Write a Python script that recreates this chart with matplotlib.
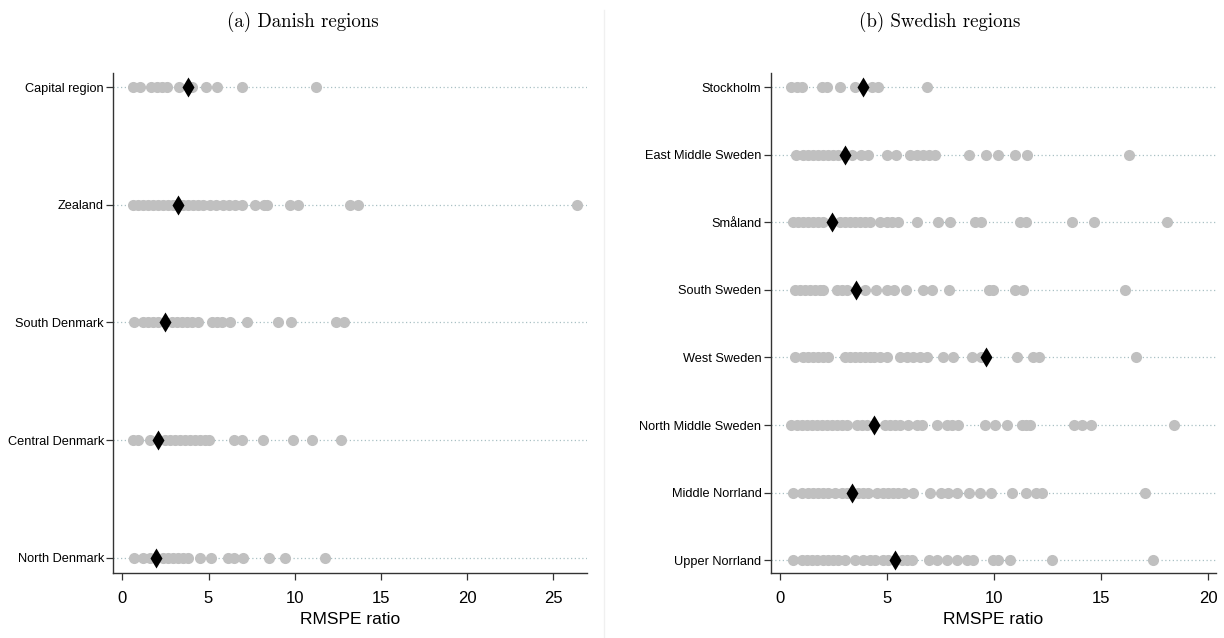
import matplotlib.pyplot as plt

# placebo RMSPE ratios (grey dots) and the actual ratio (black diamond) per region
capital = [0.60, 1.03, 1.65, 1.99, 2.28, 2.61, 3.31, 4.02, 4.86, 5.49, 6.96, 11.22]
zealand = [0.60, 0.93, 1.22, 1.51, 1.80, 2.09, 2.38, 2.67, 2.96, 3.54, 3.83, 4.12, 4.41,
           4.70, 5.09, 5.43, 5.86, 6.19, 6.54, 6.92, 7.70, 8.24, 8.37, 9.73, 10.21,
           13.21, 13.69, 26.36]
south_dk = [0.68, 1.22, 1.51, 1.80, 2.09, 2.86, 3.15, 3.44, 3.73, 4.02, 4.41, 5.18, 5.47,
            5.76, 6.25, 7.21, 9.01, 9.77, 12.40, 12.88]
central_dk = [0.60, 0.93, 1.61, 2.48, 2.77, 3.06, 3.35, 3.64, 3.93, 4.22, 4.51, 4.80, 5.05,
              6.48, 6.92, 8.18, 9.92, 11.02, 12.67]
north_dk = [0.68, 1.22, 1.61, 2.38, 2.67, 2.96, 3.25, 3.54, 3.83, 4.51, 5.15, 6.15, 6.48,
            7.02, 8.53, 9.44, 11.76]

stockholm = [0.54, 0.78, 1.01, 1.95, 2.21, 2.80, 3.50, 4.28, 4.59, 6.88]
east_middle = [0.75, 1.09, 1.32, 1.56, 1.79, 2.02, 2.26, 2.49, 2.72, 3.35, 3.77, 4.12, 5.01,
               5.42, 6.07, 6.38, 6.69, 6.97, 7.24, 8.84, 9.62, 10.18, 10.97, 11.55, 16.29]
smaland = [0.59, 0.86, 1.09, 1.32, 1.56, 1.79, 2.02, 2.80, 3.03, 3.27, 3.50, 3.73, 3.97,
           4.20, 4.67, 4.98, 5.21, 5.52, 6.38, 7.39, 7.94, 9.10, 9.41, 11.20, 11.51,
           13.65, 14.67, 18.08]
south_se = [0.70, 0.93, 1.17, 1.40, 1.63, 1.87, 2.02, 2.65, 2.88, 3.11, 3.97, 4.48, 4.98,
            5.32, 5.87, 6.69, 7.08, 7.89, 9.76, 9.96, 10.97, 11.36, 16.12]
west_se = [0.70, 1.09, 1.32, 1.56, 1.79, 2.02, 2.26, 3.03, 3.27, 3.50, 3.73, 3.97, 4.20,
           4.39, 4.67, 4.98, 5.60, 5.91, 6.22, 6.54, 6.85, 7.63, 8.06, 8.95, 9.37, 11.05,
           11.83, 12.11, 16.62]
north_middle = [0.54, 0.78, 1.01, 1.25, 1.48, 1.71, 1.95, 2.18, 2.41, 2.65, 2.88, 3.11, 3.58,
                3.81, 4.05, 4.90, 5.13, 5.37, 5.60, 5.99, 6.38, 6.61, 7.34, 7.78, 8.01,
                8.32, 9.57, 10.04, 10.58, 11.28, 11.51, 11.67, 13.74, 14.08, 14.52, 18.39]
middle_norrland = [0.62, 1.04, 1.32, 1.56, 1.79, 2.02, 2.26, 2.57, 2.88, 3.11, 3.66, 3.89,
                   4.12, 4.51, 4.82, 5.06, 5.29, 5.52, 5.80, 6.19, 7.00, 7.50, 7.86, 8.25,
                   8.84, 9.34, 9.84, 10.82, 11.47, 11.94, 12.22, 17.04]
upper_norrland = [0.62, 1.01, 1.25, 1.48, 1.71, 2.02, 2.26, 2.49, 2.72, 3.03, 3.50, 3.89,
                  4.20, 4.43, 4.82, 5.06, 5.68, 5.91, 6.15, 6.97, 7.31, 7.78, 8.25, 8.71,
                  9.03, 9.96, 10.19, 10.74, 12.72, 17.43]

dk_names = ['North Denmark', 'Central Denmark', 'South Denmark', 'Zealand', 'Capital region']
dk_placebo = [north_dk, central_dk, south_dk, zealand, capital]
dk_actual = [1.97, 2.09, 2.48, 3.25, 3.79]

se_names = ['Upper Norrland', 'Middle Norrland', 'North Middle Sweden', 'West Sweden',
            'South Sweden', 'Småland', 'East Middle Sweden', 'Stockholm']
se_placebo = [upper_norrland, middle_norrland, north_middle, west_se, south_se, smaland,
              east_middle, stockholm]
se_actual = [5.37, 3.36, 4.39, 9.62, 3.53, 2.44, 3.03, 3.89]

plt.rcParams['font.family'] = ['Liberation Sans', 'DejaVu Sans']

fig = plt.figure(figsize=(12.24, 6.38), dpi=100)
ax1 = fig.add_axes([0.0923, 0.1019, 0.3873, 0.7837])
ax2 = fig.add_axes([0.6295, 0.1019, 0.3640, 0.7837])


def draw_panel(ax, names, placebo, actual, xlim, xticks, ylim):
    for i, vals in enumerate(placebo):
        y = i + 1
        ax.axhline(y, color='#a9c0c4', lw=0.9, ls=(0, (1, 2)), zorder=1)
        ax.plot(vals, [y] * len(vals), 'o', ms=8, color='#c0c0c0', mec='none', zorder=2)
    ax.plot(actual, range(1, len(actual) + 1), 'd', ms=10, color='black', mec='none', zorder=3)
    ax.set_xlim(*xlim)
    ax.set_ylim(*ylim)
    ax.set_xticks(xticks)
    ax.set_yticks(range(1, len(names) + 1))
    ax.set_yticklabels(names, fontsize=9.2)
    ax.tick_params(axis='x', labelsize=12, length=5, width=0.9, color='#333333', pad=8)
    ax.tick_params(axis='y', length=5, width=0.9, color='#333333', pad=1.5)
    ax.set_xlabel('RMSPE ratio', fontsize=12.5, labelpad=4)
    for side in ['top', 'right']:
        ax.spines[side].set_visible(False)
    for side in ['left', 'bottom']:
        ax.spines[side].set_color('#333333')
        ax.spines[side].set_linewidth(1.0)


draw_panel(ax1, dk_names, dk_placebo, dk_actual, (-0.54, 26.95), range(0, 30, 5), (0.87, 5.12))
draw_panel(ax2, se_names, se_placebo, se_actual, (-0.44, 20.36), range(0, 25, 5), (0.81, 8.21))

fig.text(0.2475, 0.9655, '(a) Danish regions', family='cmr10', fontsize=13.6,
         ha='center', va='center')
fig.text(0.768, 0.9655, '(b) Swedish regions', family='cmr10', fontsize=13.6,
         ha='center', va='center')

# thin separator between the two panels
fig.add_artist(plt.Line2D([0.4935, 0.4935], [0.0, 0.985], transform=fig.transFigure,
                          color='#f0f0f0', lw=1))

fig.savefig('out.png', dpi=100)
